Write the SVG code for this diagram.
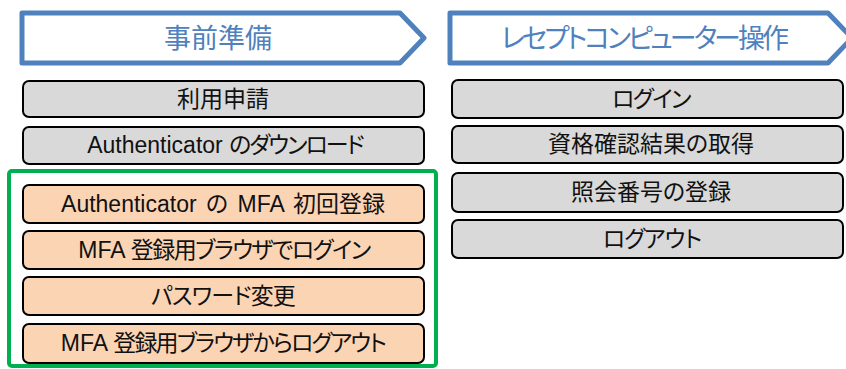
<svg xmlns="http://www.w3.org/2000/svg" width="846" height="369" viewBox="0 0 846 369">
<style>
.hdr{fill:#ffffff;stroke:#4f81bd;stroke-width:5;stroke-linejoin:round}
.ht{font-family:"Noto Sans CJK JP","Noto Sans",sans-serif;font-size:27px;fill:#4f81bd;text-anchor:middle;font-feature-settings:"palt"}
.g{fill:#d9d9d9;stroke:#000;stroke-width:2}
.o{fill:#fbd4b4;stroke:#000;stroke-width:2}
.t{font-family:"Liberation Sans","Noto Sans CJK JP",sans-serif;font-size:23px;fill:#111;text-anchor:middle;font-feature-settings:"palt"}
.grp{fill:none;stroke:#00b050;stroke-width:4}
</style>
<rect width="846" height="369" fill="#ffffff"/>
<g id="header-left">
<path class="hdr" d="M22,13 H400 L424,38 L400,63 H22 Z"/>
<text class="ht" x="218" y="48">事前準備</text>
</g>
<g id="header-right">
<path class="hdr" d="M450,13 H828 L852,38 L828,63 H450 Z"/>
<text class="ht" x="645" y="48" textLength="288" lengthAdjust="spacing">レセプトコンピューター操作</text>
</g>
<g id="group-mfa">
<rect class="grp" x="9" y="171" width="427" height="195" rx="3"/>
</g>
<g id="n1"><rect class="g" x="23" y="81" width="401" height="36" rx="6"/><text class="t" x="223" y="107">利用申請</text></g>
<g id="n2"><rect class="g" x="23" y="127" width="401" height="37" rx="6"/><text class="t" x="225" y="153">Authenticator <tspan style="letter-spacing:-2px">のダウンロード</tspan></text></g>
<g id="n3"><rect class="o" x="23" y="185" width="401" height="38" rx="6"/><text class="t" x="223" y="212" style="word-spacing:3px">Authenticator の MFA 初回登録</text></g>
<g id="n4"><rect class="o" x="23" y="231" width="401" height="38" rx="6"/><text class="t" x="224" y="258">MFA <tspan style="letter-spacing:-1.5px">登録用ブラウザでログイン</tspan></text></g>
<g id="n5"><rect class="o" x="23" y="277" width="401" height="38" rx="6"/><text class="t" x="223" y="304" style="letter-spacing:-0.8px">パスワード変更</text></g>
<g id="n6"><rect class="o" x="23" y="324" width="401" height="39" rx="6"/><text class="t" x="223" y="351">MFA <tspan style="letter-spacing:-1.8px">登録用ブラウザからログアウト</tspan></text></g>
<g id="r1"><rect class="g" x="452" y="80" width="391" height="38" rx="6"/><text class="t" x="651" y="107" style="letter-spacing:-1.5px">ログイン</text></g>
<g id="r2"><rect class="g" x="452" y="126" width="391" height="37" rx="6"/><text class="t" x="651" y="152">資格確認結果の取得</text></g>
<g id="r3"><rect class="g" x="452" y="173" width="391" height="39" rx="6"/><text class="t" x="651" y="200">照会番号の登録</text></g>
<g id="r4"><rect class="g" x="452" y="220" width="391" height="38" rx="6"/><text class="t" x="652" y="247" style="letter-spacing:-1px">ログアウト</text></g>
<g id="connectors"></g>
</svg>
